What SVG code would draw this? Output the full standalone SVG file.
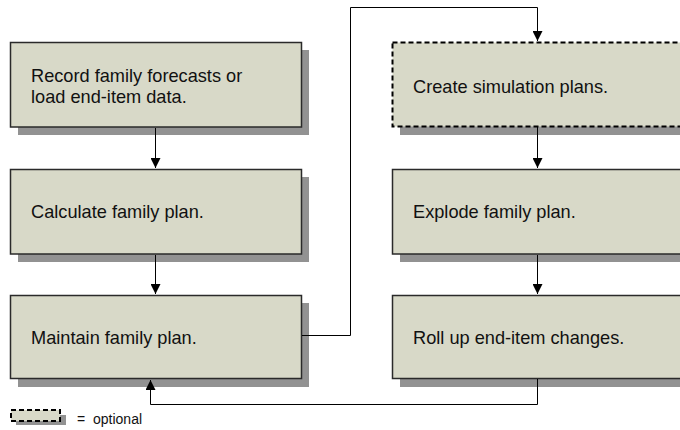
<svg xmlns="http://www.w3.org/2000/svg" width="680" height="430" viewBox="0 0 680 430">
<style>
.box{fill:#d8d9c8;stroke:#2a2a2a;stroke-width:1.5}
.dash{stroke:#000;stroke-width:2;stroke-dasharray:5,3}
.sh{fill:#929292}
.t{font-family:"Liberation Sans",Arial,sans-serif;font-size:18.2px;fill:#111}
.c{fill:none;stroke:#000;stroke-width:1}
</style>
<defs>
<marker id="ah" viewBox="0 0 10 10" refX="10" refY="5" markerWidth="10" markerHeight="10" markerUnits="userSpaceOnUse" orient="auto">
<path d="M0,0 L10,5 L0,10 z" fill="#000"/>
</marker>
</defs>
<rect width="680" height="430" fill="#fff"/>
<g id="n1">
<rect class="sh" x="18" y="50" width="291" height="85"/>
<rect class="box" x="10.5" y="42.5" width="291" height="84.5"/>
<text class="t" x="31" y="82">Record family forecasts or</text>
<text class="t" x="31" y="103">load end-item data.</text>
</g>
<g id="n2">
<rect class="sh" x="18" y="177" width="291" height="85"/>
<rect class="box" x="10.5" y="169.5" width="291" height="84.5"/>
<text class="t" x="31" y="218">Calculate family plan.</text>
</g>
<g id="n3">
<rect class="sh" x="18" y="303" width="291" height="84"/>
<rect class="box" x="10.5" y="295.5" width="291" height="83"/>
<text class="t" x="31" y="344">Maintain family plan.</text>
</g>
<g id="n4">
<rect class="sh" x="400" y="50" width="291" height="85"/>
<rect class="box dash" x="392.5" y="42.5" width="291" height="84"/>
<text class="t" x="413" y="93">Create simulation plans.</text>
</g>
<g id="n5">
<rect class="sh" x="400" y="177" width="291" height="85"/>
<rect class="box" x="392.5" y="169.5" width="291" height="84.5"/>
<text class="t" x="413" y="218">Explode family plan.</text>
</g>
<g id="n6">
<rect class="sh" x="400" y="303" width="291" height="84"/>
<rect class="box" x="392.5" y="295.5" width="291" height="83"/>
<text class="t" x="413" y="344">Roll up end-item changes.</text>
</g>
<g id="legend">
<rect class="sh" x="16" y="415" width="50" height="10"/>
<rect class="box dash" x="11" y="410" width="49" height="11"/>
<text y="424" font-family="Liberation Sans,Arial,sans-serif" font-size="14px" fill="#111"><tspan x="77">=</tspan><tspan x="93">optional</tspan></text>
</g>
<g id="connectors">
<path class="c" d="M155.5,128 V168" marker-end="url(#ah)"/>
<path class="c" d="M155.5,255 V294" marker-end="url(#ah)"/>
<path class="c" d="M537.5,127 V168" marker-end="url(#ah)"/>
<path class="c" d="M537.5,255 V294" marker-end="url(#ah)"/>
<path class="c" d="M302,335.5 H350.5 V7.5 H537.5 V41" marker-end="url(#ah)"/>
<path class="c" d="M537.5,379 V404.5 H150.5 V380" marker-end="url(#ah)"/>
</g>
</svg>
